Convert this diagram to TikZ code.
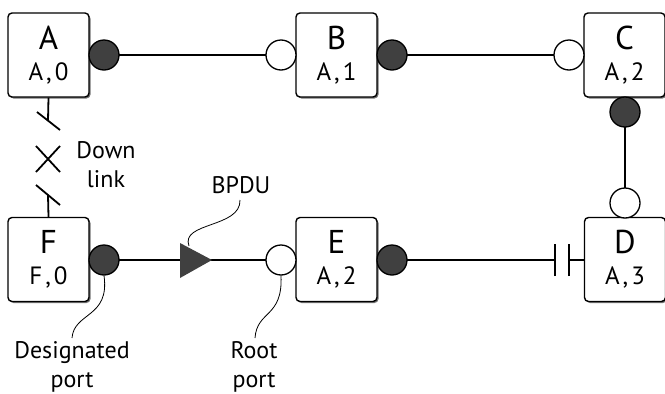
\documentclass[tikz,border=0pt]{standalone}
\usepackage{fontspec}
\setmainfont{PT Sans}
\usetikzlibrary{shadows}
\definecolor{portfill}{HTML}{404040}
\newcommand{\pair}[2]{#1\kern3pt,\kern3pt#2}
\tikzset{
  box/.style={draw, line width=1.4pt, rounded corners=4pt, fill=white,
    minimum width=81pt, minimum height=84pt, inner sep=0pt,
    drop shadow={shadow xshift=1.5pt, shadow yshift=-1.5pt, fill=black!55, opacity=1}},
  bigtxt/.style={anchor=base, inner sep=0pt, font=\fontsize{33}{33}\selectfont},
  smalltxt/.style={anchor=base, inner sep=0pt, font=\fontsize{25}{25}\selectfont},
  dport/.style={circle, draw, line width=1.3pt, fill=portfill, minimum size=30pt, inner sep=0pt},
  rport/.style={circle, draw, line width=1.3pt, fill=white, minimum size=30pt, inner sep=0pt},
  link/.style={line width=2.9pt},
  brk/.style={line width=1.8pt},
  callout/.style={line width=0.8pt},
  lbl/.style={align=center, inner sep=0pt, font=\fontsize{24}{29}\selectfont},
}
\newcommand{\switchbox}[4]{%
  \node[box] (#1) at (#2) {};
  \node[bigtxt] (#1t) at ([yshift=6pt]#1.center) {#3};
  \node[smalltxt] (#1b) at ([yshift=-25pt]#1.center) {#4};
}
\begin{document}
\begin{tikzpicture}[x=1pt,y=-1pt]
\useasboundingbox (0,0) rectangle (665,394);
\coordinate (Apc) at (104,55);
\coordinate (Boc) at (281,55);
\coordinate (Bpc) at (392,55);
\coordinate (Coc) at (569,55);
\coordinate (Cpc) at (625,112);
\coordinate (Doc) at (625,203);
\coordinate (Fpc) at (104,260);
\coordinate (Eoc) at (281,260);
\coordinate (Epc) at (392,260);
\coordinate (k1) at (555,260);
\coordinate (k2) at (569,260);

\draw[link] (Apc) -- (Boc);
\draw[link] (Bpc) -- (Coc);
\draw[link] (Cpc) -- (Doc);
\draw[link] (Fpc) -- (Eoc);
\draw[link] (Epc) -- (k1);
\draw[link] (k2) -- (586,260);
\draw[brk] ([yshift=-16pt]k1) -- ([yshift=16pt]k1);
\draw[brk] ([yshift=-16pt]k2) -- ([yshift=16pt]k2);

% boxes
\switchbox{A}{48.5,55}{A}{\pair{A}{0}}
\switchbox{B}{336.5,55}{B}{\pair{A}{1}}
\switchbox{C}{624.5,55}{C}{\pair{A}{2}}
\switchbox{D}{625,259.5}{D}{\pair{A}{3}}
\switchbox{E}{336.5,259.5}{E}{\pair{A}{2}}
\switchbox{F}{48.5,259.5}{F}{\pair{F}{0}}

% ports
\node[dport] (Ap) at (Apc) {};
\node[rport] (Bo) at (Boc) {};
\node[dport] (Bp) at (Bpc) {};
\node[rport] (Co) at (Coc) {};
\node[dport] (Cp) at (Cpc) {};
\node[rport] (Do) at (Doc) {};
\node[dport] (Fp) at (Fpc) {};
\node[rport] (Eo) at (Eoc) {};
\node[dport] (Ep) at (Epc) {};

% BPDU triangle
\fill[portfill] (180,243) -- (212,260) -- (180,278) -- cycle;

% down link
\coordinate (s1a) at (37,112);
\coordinate (s1b) at (60,130);
\coordinate (s1m) at (48,120.6);
\coordinate (s2a) at (36,185);
\coordinate (s2b) at (60,205);
\coordinate (s2m) at (48,195);
\draw[brk] (A.south) -- (s1m);
\draw[brk] (s1a) -- (s1b);
\draw[brk] (s2a) -- (s2b);
\draw[brk] (s2m) -- (F.north);
\draw[brk] (36,146) -- (60,172);
\draw[brk] (36,172) -- (60,146);

% labels
\node[lbl] (dl) at (106,165) {Down\\link};
\node[lbl] (bp) at (241,185) {BPDU};
\node[lbl] (dp) at (72,367) {Designated\\port};
\node[lbl] (rp) at (254,367) {Root\\port};

% callouts
\coordinate (bpe) at (189,246);
\coordinate (bps) at (240,200);
\coordinate (dpe) at (72,338);
\coordinate (rpe) at (255,338);
\draw[callout] (bps) .. controls (241,228) and (180,222) .. (bpe);
\draw[callout] (Fp.south) .. controls (110,318) and (74,312) .. (dpe);
\draw[callout] (Eo.south) .. controls (283,318) and (257,310) .. (rpe);
\end{tikzpicture}
\end{document}
